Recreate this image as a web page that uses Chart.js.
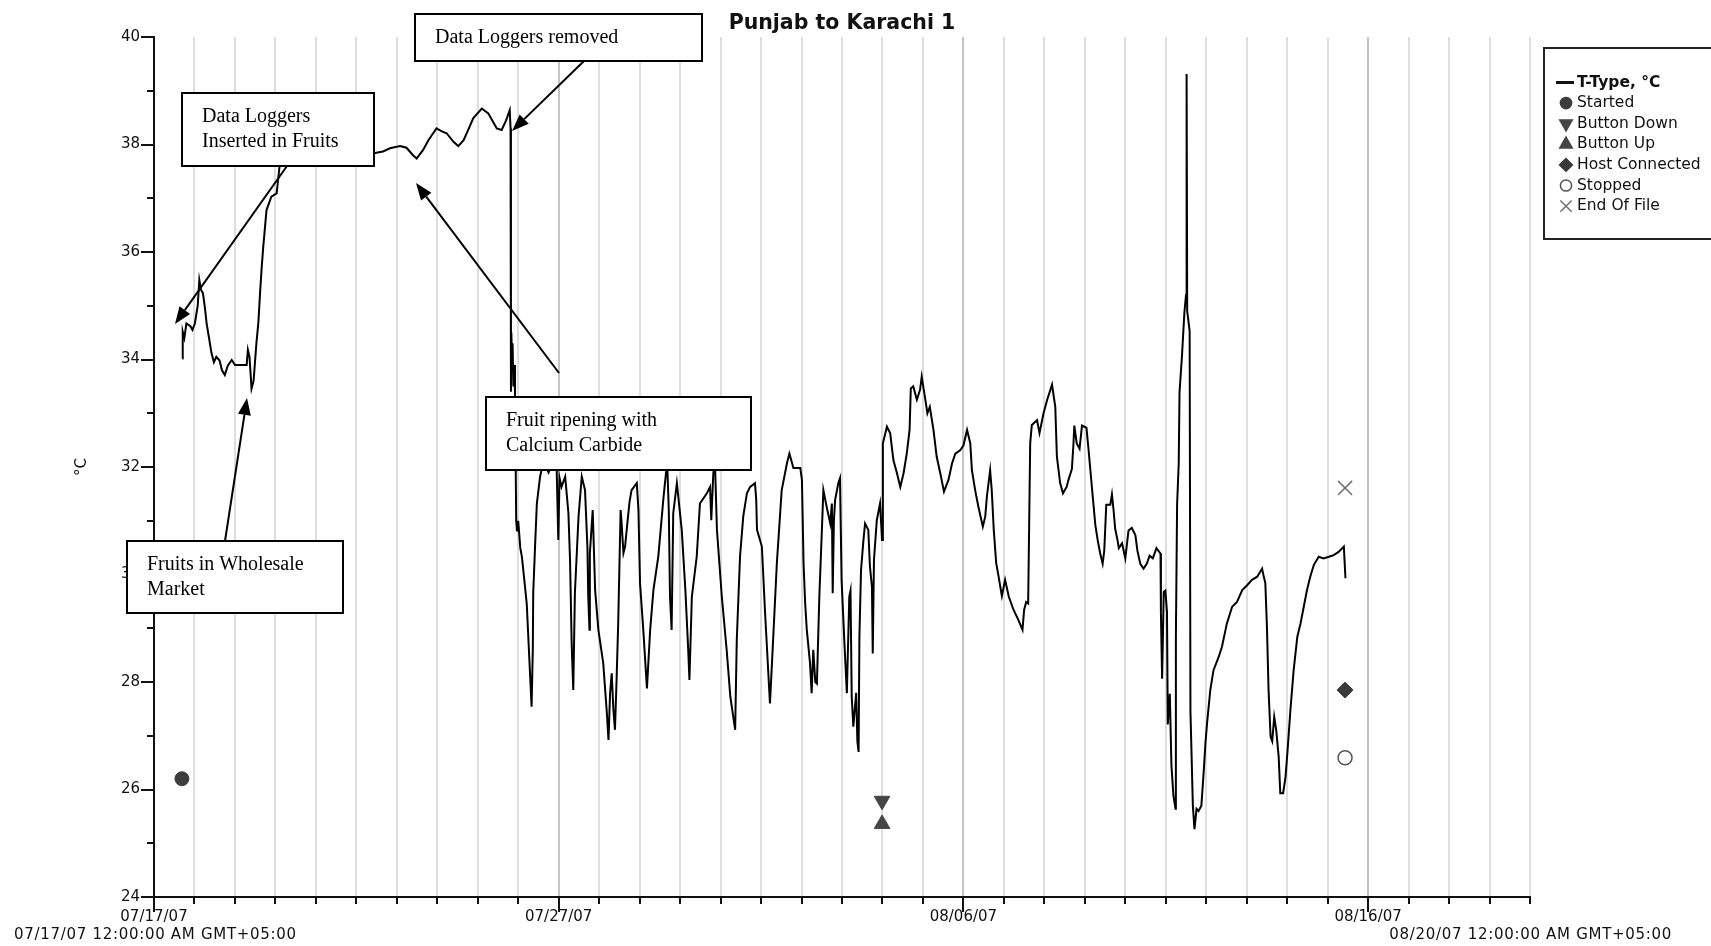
<!DOCTYPE html>
<html>
<head>
<meta charset="utf-8">
<script src="https://cdn.jsdelivr.net/npm/chart.js@4.4.1/dist/chart.umd.min.js"></script>
<style>
html, body { margin: 0; padding: 0; background: #fff; }
</style>
</head>
<body>
<canvas id="tempChart" width="1711" height="946"></canvas>
<script>
// T-Type trace, x = days since 07/17/07 12:00 AM
const tDays = [
    0.70, 0.71, 0.75, 0.80, 0.90, 0.95, 1.01, 1.08, 1.12, 1.16,
    1.21, 1.26, 1.30, 1.36, 1.42, 1.48, 1.54, 1.62, 1.68, 1.75,
    1.82, 1.92, 2.00, 2.29, 2.32, 2.36, 2.41, 2.46, 2.53, 2.58,
    2.62, 2.66, 2.70, 2.78, 2.90, 3.03, 3.11, 3.30, 3.70, 4.20,
    4.80, 5.20, 5.46, 5.66, 5.83, 6.08, 6.24, 6.40, 6.49, 6.65,
    6.78, 6.98, 7.10, 7.23, 7.40, 7.52, 7.65, 7.78, 7.89, 8.10,
    8.26, 8.38, 8.47, 8.59, 8.70, 8.79, 8.81, 8.82, 8.83, 8.85,
    8.86, 8.88, 8.90, 8.92, 8.95, 8.97, 9.00, 9.05, 9.09, 9.15,
    9.21, 9.27, 9.33, 9.36, 9.37, 9.42, 9.46, 9.54, 9.62, 9.75,
    9.85, 9.95, 9.99, 10.02, 10.07, 10.16, 10.24, 10.28, 10.32, 10.36,
    10.40, 10.49, 10.57, 10.65, 10.71, 10.73, 10.76, 10.77, 10.84, 10.90,
    10.98, 11.10, 11.19, 11.23, 11.27, 11.31, 11.35, 11.39, 11.43, 11.47,
    11.53, 11.55, 11.60, 11.64, 11.68, 11.75, 11.80, 11.93, 11.97, 12.01,
    12.09, 12.18, 12.26, 12.34, 12.46, 12.59, 12.65, 12.68, 12.72, 12.75,
    12.79, 12.83, 12.92, 13.04, 13.13, 13.20, 13.23, 13.29, 13.41, 13.49,
    13.66, 13.74, 13.77, 13.82, 13.86, 13.91, 14.03, 14.15, 14.24, 14.36,
    14.40, 14.48, 14.56, 14.65, 14.73, 14.85, 14.88, 14.90, 15.02, 15.10,
    15.22, 15.31, 15.39, 15.51, 15.64, 15.70, 15.80, 15.97, 16.01, 16.05,
    16.09, 16.13, 16.21, 16.25, 16.29, 16.34, 16.38, 16.44, 16.50, 16.54,
    16.62, 16.71, 16.75, 16.77, 16.80, 16.83, 16.91, 16.95, 16.99, 17.06,
    17.12, 17.18, 17.21, 17.24, 17.28, 17.35, 17.38, 17.41, 17.43, 17.47,
    17.53, 17.57, 17.65, 17.69, 17.74, 17.76, 17.79, 17.86, 17.94, 17.99,
    18.01, 18.11, 18.19, 18.27, 18.36, 18.44, 18.52, 18.60, 18.67, 18.70,
    18.76, 18.85, 18.93, 18.97, 19.06, 19.11, 19.17, 19.26, 19.34, 19.43,
    19.52, 19.63, 19.72, 19.80, 19.92, 20.00, 20.09, 20.17, 20.21, 20.29,
    20.37, 20.48, 20.54, 20.58, 20.66, 20.70, 20.75, 20.81, 20.87, 20.91,
    20.95, 21.03, 21.12, 21.24, 21.36, 21.46, 21.50, 21.55, 21.60, 21.65,
    21.69, 21.82, 21.88, 21.98, 22.07, 22.19, 22.27, 22.31, 22.39, 22.46,
    22.55, 22.60, 22.68, 22.72, 22.74, 22.80, 22.87, 22.93, 23.04, 23.09,
    23.18, 23.26, 23.32, 23.38, 23.44, 23.48, 23.53, 23.63, 23.67, 23.71,
    23.75, 23.81, 23.84, 23.92, 24.00, 24.08, 24.16, 24.25, 24.30, 24.37,
    24.45, 24.53, 24.60, 24.68, 24.77, 24.87, 24.88, 24.91, 24.95, 24.99,
    25.03, 25.05, 25.10, 25.14, 25.19, 25.24, 25.25, 25.28, 25.32, 25.34,
    25.40, 25.46, 25.50, 25.51, 25.52, 25.53, 25.59, 25.61, 25.67, 25.71,
    25.76, 25.81, 25.88, 25.94, 25.98, 26.02, 26.10, 26.18, 26.31, 26.39,
    26.51, 26.64, 26.76, 26.89, 27.01, 27.13, 27.26, 27.38, 27.41, 27.46,
    27.50, 27.54, 27.59, 27.63, 27.68, 27.73, 27.79, 27.83, 27.90, 27.96,
    28.01, 28.08, 28.16, 28.25, 28.33, 28.41, 28.49, 28.57, 28.66, 28.78,
    28.90, 29.03, 29.15, 29.27, 29.40, 29.44
];
const tempC = [
    34.02, 34.52, 34.40, 34.67, 34.62, 34.55, 34.67, 35.00, 35.48, 35.30,
    35.23, 34.95, 34.67, 34.40, 34.12, 33.95, 34.05, 33.98, 33.80, 33.71,
    33.88, 33.99, 33.90, 33.90, 34.18, 34.05, 33.46, 33.60, 34.30, 34.70,
    35.23, 35.70, 36.10, 36.78, 37.03, 37.09, 37.65, 37.85, 37.90, 37.95,
    37.85, 37.82, 37.84, 37.87, 37.93, 37.97, 37.94, 37.80, 37.74, 37.90,
    38.08, 38.30, 38.25, 38.21, 38.05, 37.97, 38.08, 38.30, 38.49, 38.67,
    38.58, 38.42, 38.30, 38.27, 38.45, 38.64, 38.30, 33.40, 34.50, 33.80,
    34.30, 33.50, 33.90, 33.40, 31.00, 30.80, 31.00, 30.50, 30.33, 29.90,
    29.46, 28.50, 27.54, 28.60, 29.65, 30.60, 31.32, 31.82, 32.10, 31.90,
    32.10, 31.95, 30.64, 31.80, 31.63, 31.82, 31.14, 30.27, 28.72, 27.85,
    29.65, 31.08, 31.82, 31.57, 30.50, 29.59, 28.97, 30.39, 31.20, 29.71,
    28.97, 28.35, 27.42, 26.92, 27.80, 28.16, 27.50, 27.11, 28.04, 29.09,
    31.20, 31.00, 30.40, 30.52, 30.83, 31.35, 31.57, 31.70, 31.20, 29.83,
    28.97, 27.88, 28.97, 29.71, 30.33, 31.44, 31.88, 32.10, 31.20, 29.59,
    28.97, 31.14, 31.70, 30.83, 29.71, 28.60, 28.04, 29.59, 30.33, 31.32,
    31.51, 31.63, 31.01, 31.88, 32.10, 30.83, 29.59, 28.60, 27.73, 27.11,
    28.78, 30.33, 31.08, 31.51, 31.63, 31.70, 31.40, 30.83, 30.52, 29.28,
    27.60, 28.97, 30.21, 31.57, 32.07, 32.25, 31.98, 31.98, 31.76, 30.21,
    29.46, 28.97, 28.35, 27.79, 28.60, 28.00, 27.97, 29.59, 30.77, 31.57,
    31.26, 30.95, 31.32, 29.65, 31.00, 31.39, 31.70, 31.79, 29.90, 28.72,
    27.79, 29.59, 29.70, 27.73, 27.17, 27.80, 26.90, 26.70, 28.84, 30.08,
    30.64, 30.95, 30.83, 30.15, 29.77, 28.53, 30.27, 31.01, 31.32, 30.64,
    32.44, 32.75, 32.63, 32.13, 31.88, 31.63, 31.88, 32.25, 32.69, 33.46,
    33.50, 33.25, 33.44, 33.68, 33.25, 33.00, 33.12, 32.69, 32.19, 31.88,
    31.54, 31.76, 32.07, 32.25, 32.31, 32.40, 32.69, 32.44, 31.94, 31.57,
    31.26, 30.89, 31.08, 31.45, 31.94, 31.57, 30.83, 30.21, 29.96, 29.78,
    29.60, 29.90, 29.59, 29.34, 29.15, 28.97, 29.34, 29.49, 29.46, 32.44,
    32.78, 32.87, 32.63, 33.00, 33.25, 33.53, 33.12, 32.19, 31.70, 31.51,
    31.63, 31.77, 31.96, 32.44, 32.77, 32.44, 32.34, 32.77, 32.73, 32.34,
    31.58, 30.92, 30.63, 30.39, 30.20, 30.44, 31.30, 31.30, 31.49, 31.20,
    30.85, 30.63, 30.49, 30.58, 30.30, 30.82, 30.87, 30.73, 30.44, 30.20,
    30.11, 30.20, 30.35, 30.30, 30.49, 30.39, 29.30, 28.06, 29.68, 29.70,
    29.30, 27.21, 27.78, 26.45, 25.88, 25.64, 28.82, 31.30, 32.06, 33.39,
    34.06, 34.87, 35.20, 36.96, 39.31, 34.90, 34.53, 27.45, 25.69, 25.26,
    25.64, 25.60, 25.70, 26.36, 26.86, 27.23, 27.85, 28.22, 28.47, 28.66,
    29.09, 29.40, 29.49, 29.71, 29.80, 29.90, 29.96, 30.11, 30.00, 29.84,
    29.03, 27.85, 26.98, 26.90, 27.35, 27.10, 26.61, 25.93, 25.93, 26.24,
    26.73, 27.48, 28.22, 28.84, 29.09, 29.40, 29.71, 29.96, 30.18, 30.33,
    30.30, 30.33, 30.36, 30.42, 30.52, 29.93
];

// logger events (day, value)
const startedDay = [0.69], startedVal = [26.20];
const btnDownDay = [17.99], btnDownVal = [25.79];
const btnUpDay = [17.99], btnUpVal = [25.36];
const hostDay = [29.43], hostVal = [27.85];
const stoppedDay = [29.43], stoppedVal = [26.59];
const eofDay = [29.43], eofVal = [31.61];

// axis
const xLabelDays = [0, 10, 20, 30];
const xTickLabels = ["07/17/07", "07/27/07", "08/06/07", "08/16/07"];
const rangeStart = "07/17/07 12:00:00 AM GMT+05:00";
const rangeEnd = "08/20/07 12:00:00 AM GMT+05:00";
const legendLabels = ["T-Type, °C", "Started", "Button Down", "Button Up", "Host Connected", "Stopped", "End Of File"];

// callout boxes pasted on the graph
const notes = [
    { lines: ["Data Loggers removed"], box: [415, 14, 287, 47], from: [584, 61], to: [512, 131] },
    { lines: ["Data Loggers", "Inserted in Fruits"], box: [182, 93, 192, 73], from: [287, 166], to: [175, 324] },
    { lines: ["Fruit ripening with", "Calcium Carbide"], box: [486, 397, 265, 73], from: [559, 373], to: [416, 183] },
    { lines: ["Fruits in Wholesale", "Market"], box: [127, 541, 216, 72], from: [225, 541], to: [247, 398] }
];

const pts = (xs, ys) => xs.map((x, i) => ({ x: x, y: ys[i] }));

const mk = {
    started: { pointStyle: "circle", radius: 7, rotation: 0, color: "#3d3d3d", fill: true },
    down: { pointStyle: "triangle", radius: 9, rotation: 180, color: "#454545", fill: true },
    up: { pointStyle: "triangle", radius: 9, rotation: 0, color: "#454545", fill: true },
    host: { pointStyle: "rectRot", radius: 8, rotation: 0, color: "#3a3a3a", fill: true },
    stopped: { pointStyle: "circle", radius: 7, rotation: 0, color: "#555", fill: false },
    eof: { pointStyle: "crossRot", radius: 10, rotation: 0, color: "#707070", fill: false }
};

function eventSet(label, xs, ys, m) {
    return {
        label: label,
        data: pts(xs, ys),
        showLine: false,
        pointStyle: m.pointStyle,
        pointRadius: m.radius,
        pointRotation: m.rotation,
        pointBackgroundColor: m.fill ? m.color : "#fff",
        pointBorderColor: m.color,
        pointBorderWidth: m.fill ? 1 : 1.5
    };
}

const font = '"DejaVu Sans", Verdana, sans-serif';
Chart.defaults.font.family = font;
Chart.defaults.font.size = 15;
Chart.defaults.color = "#111";

function arrow(ctx, a, b) {
    const ang = Math.atan2(b[1] - a[1], b[0] - a[0]);
    const len = 17, half = 6.5;
    const bx = b[0] - Math.cos(ang) * len, by = b[1] - Math.sin(ang) * len;
    ctx.beginPath();
    ctx.moveTo(a[0], a[1]);
    ctx.lineTo(bx, by);
    ctx.stroke();
    ctx.beginPath();
    ctx.moveTo(b[0], b[1]);
    ctx.lineTo(bx - Math.sin(ang) * half, by + Math.cos(ang) * half);
    ctx.lineTo(bx + Math.sin(ang) * half, by - Math.cos(ang) * half);
    ctx.closePath();
    ctx.fill();
}

const overlay = {
    id: "overlay",
    afterDraw(chart) {
        const ctx = chart.ctx;
        const sx = chart.scales.x, sy = chart.scales.y;
        const area = chart.chartArea;
        ctx.save();

        // tick marks
        ctx.strokeStyle = "#111";
        ctx.lineWidth = 2;
        for (let d = sx.min; d <= sx.max; d++) {
            const px = Math.round(sx.getPixelForValue(d));
            const len = d % 10 === 0 ? 15 : 7;
            ctx.beginPath();
            ctx.moveTo(px, area.bottom);
            ctx.lineTo(px, area.bottom + len);
            ctx.stroke();
        }
        for (let v = sy.min; v <= sy.max; v++) {
            const py = Math.round(sy.getPixelForValue(v));
            const len = v % 2 === 0 ? 13 : 7;
            ctx.beginPath();
            ctx.moveTo(area.left, py);
            ctx.lineTo(area.left - len, py);
            ctx.stroke();
        }

        // title, axis title, range labels
        ctx.fillStyle = "#111";
        ctx.textBaseline = "middle";
        ctx.textAlign = "center";
        ctx.font = "bold 20.5px " + font;
        ctx.fillText("Punjab to Karachi 1", (area.left + area.right) / 2, 24);
        ctx.font = "15px " + font;
        ctx.save();
        ctx.translate(82, (area.top + area.bottom) / 2);
        ctx.rotate(-Math.PI / 2);
        ctx.fillText("°C", 0, 0);
        ctx.restore();
        ctx.save();
        ctx.letterSpacing = "0.7px";
        ctx.textAlign = "left";
        ctx.fillText(rangeStart, 14, 935);
        ctx.textAlign = "right";
        ctx.fillText(rangeEnd, 1672, 935);
        ctx.restore();

        // legend
        ctx.strokeStyle = "#222";
        ctx.lineWidth = 2;
        ctx.strokeRect(1544, 48, 220, 191);
        const marks = [null, mk.started, mk.down, mk.up, mk.host, mk.stopped, mk.eof];
        legendLabels.forEach((txt, i) => {
            const y = 82.5 + i * 20.6;
            ctx.textAlign = "left";
            ctx.fillStyle = "#111";
            if (i === 0) {
                ctx.fillRect(1556, y - 1.5, 18, 3);
                ctx.font = "bold 15.5px " + font;
            } else {
                const m = marks[i];
                ctx.fillStyle = m.fill ? m.color : "#fff";
                ctx.strokeStyle = m.color;
                ctx.lineWidth = 1.5;
                Chart.helpers.drawPoint(ctx, { pointStyle: m.pointStyle, radius: m.radius * 0.8, rotation: m.rotation, borderWidth: 1.5 }, 1566, y);
                ctx.fillStyle = "#111";
                ctx.font = "15.5px " + font;
            }
            ctx.fillText(txt, 1577, y);
        });

        // callouts
        ctx.lineWidth = 2;
        ctx.strokeStyle = "#000";
        ctx.fillStyle = "#000";
        ctx.font = '20px "Liberation Serif", "Times New Roman", serif';
        notes.forEach(n => {
            const [bx, by, bw, bh] = n.box;
            ctx.fillStyle = "#fff";
            ctx.fillRect(bx, by, bw, bh);
            ctx.strokeRect(bx, by, bw, bh);
            ctx.fillStyle = "#000";
            ctx.textAlign = "left";
            const cy = by + bh / 2 - (n.lines.length - 1) * 12.5;
            n.lines.forEach((ln, k) => ctx.fillText(ln, bx + 20, cy + k * 25));
        });
        notes.forEach(n => arrow(ctx, n.from, n.to));

        ctx.restore();
    }
};

new Chart(document.getElementById("tempChart"), {
    type: "line",
    data: {
        datasets: [
            {
                label: "T-Type, °C",
                data: pts(tDays, tempC),
                borderColor: "#000",
                borderWidth: 2,
                pointRadius: 0,
                tension: 0
            },
            eventSet("Started", startedDay, startedVal, mk.started),
            eventSet("Button Down", btnDownDay, btnDownVal, mk.down),
            eventSet("Button Up", btnUpDay, btnUpVal, mk.up),
            eventSet("Host Connected", hostDay, hostVal, mk.host),
            eventSet("Stopped", stoppedDay, stoppedVal, mk.stopped),
            eventSet("End Of File", eofDay, eofVal, mk.eof)
        ]
    },
    options: {
        responsive: false,
        animation: false,
        layout: { padding: { top: 37, right: 181, left: 0, bottom: 0 } },
        plugins: {
            legend: { display: false },
            tooltip: { enabled: false },
            title: { display: false }
        },
        scales: {
            x: {
                type: "linear",
                min: 0,
                max: 34,
                afterFit: s => { s.height = 49; },
                ticks: {
                    stepSize: 1,
                    autoSkip: false,
                    maxRotation: 0,
                    padding: 11,
                    callback: v => {
                        const i = xLabelDays.indexOf(v);
                        return i < 0 ? "" : xTickLabels[i];
                    }
                },
                grid: {
                    drawTicks: false,
                    lineWidth: 2,
                    color: c => c.tick.value === 0 ? "rgba(0,0,0,0)" : (c.tick.value % 10 === 0 ? "#c4c4c4" : "#dedede")
                },
                border: { color: "#111", width: 2 }
            },
            y: {
                min: 24,
                max: 40,
                afterFit: s => { s.width = 154; },
                ticks: {
                    stepSize: 1,
                    autoSkip: false,
                    padding: 14,
                    callback: v => v % 2 === 0 ? v : ""
                },
                grid: { display: false, drawTicks: false },
                border: { color: "#111", width: 2 }
            }
        }
    },
    plugins: [overlay]
});
</script>
</body>
</html>
